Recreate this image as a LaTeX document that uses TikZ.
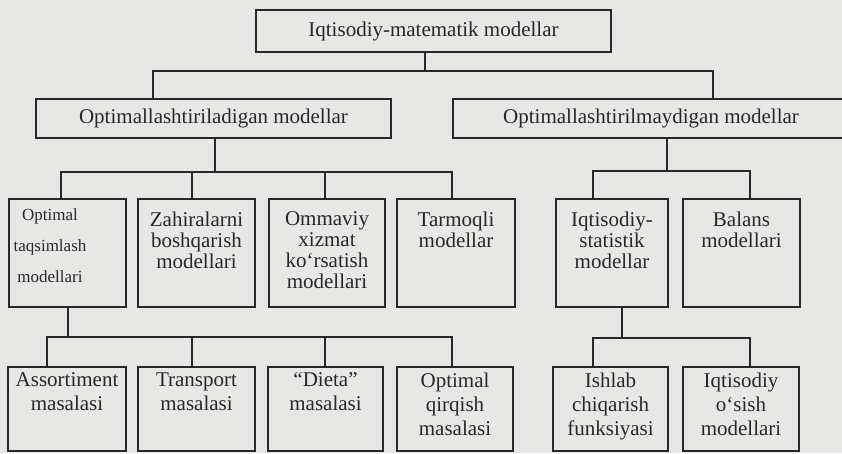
\documentclass[tikz,border=0pt]{standalone}
\usepackage{fontspec}
\setmainfont{Liberation Serif}
\definecolor{bg}{RGB}{231,231,229}
\definecolor{ink}{RGB}{40,40,40}
\begin{document}
\begin{tikzpicture}[x=1pt,y=-1pt,
  box/.style={draw=ink, line width=2pt, inner sep=0pt, outer sep=0pt, text=ink,
    font=\fontsize{21}{21}\selectfont},
  conn/.style={draw=ink, line width=2pt},
  txtA/.style={text=ink, inner sep=0pt, outer sep=0pt, align=center, anchor=north,
    font=\fontsize{21}{21}\selectfont},
  txtB/.style={text=ink, inner sep=0pt, outer sep=0pt, align=center, anchor=north,
    font=\fontsize{21}{24}\selectfont},
  txtS/.style={text=ink, inner sep=0pt, outer sep=0pt, align=center, anchor=north,
    font=\fontsize{17}{31}\selectfont},
  lthree/.style={box, minimum height=108},
  lfour/.style={box, minimum height=84}]
\fill[bg] (0,0) rectangle (842,453);
\useasboundingbox (0,0) rectangle (842,453);
\clip (0,0) rectangle (842,453);

% level 1 and 2
\node[box, minimum width=355, minimum height=42] (T) at (433.5,31) {Iqtisodiy-matematik modellar};
\node[box, minimum width=355, minimum height=39] (A) at (213.5,118.5) {Optimallashtiriladigan modellar};
\node[box, minimum width=396, minimum height=39] (B) at (651,118.5) {Optimallashtirilmaydigan modellar};

% level 3
\node[lthree, minimum width=117] (b1) at (67.5,253) {};
\node[lthree, minimum width=117] (b2) at (196.5,253) {};
\node[lthree, minimum width=116] (b3) at (327,253) {};
\node[lthree, minimum width=118] (b4) at (456,253) {};
\node[lthree, minimum width=112] (b5) at (612,253) {};
\node[lthree, minimum width=117] (b6) at (741.5,253) {};

\node[txtS] (tb1) at ([xshift=-17.5,yshift=-10]b1.north) {Optimal\\taqsimlash\\modellari};
\node[txtA] (tb2) at ([yshift=-13]b2.north) {Zahiralarni\\boshqarish\\modellari};
\node[txtA] (tb3) at ([yshift=-13]b3.north) {Ommaviy\\xizmat\\ko‘rsatish\\modellari};
\node[txtA] (tb4) at ([yshift=-13]b4.north) {Tarmoqli\\modellar};
\node[txtA] (tb5) at ([yshift=-13]b5.north) {Iqtisodiy-\\statistik\\modellar};
\node[txtA] (tb6) at ([yshift=-13]b6.north) {Balans\\modellari};

% level 4
\node[lfour, minimum width=118] (c1) at (67,409) {};
\node[lfour, minimum width=117] (c2) at (196.5,409) {};
\node[lfour, minimum width=115] (c3) at (325.5,409) {};
\node[lfour, minimum width=116] (c4) at (455,409) {};
\node[lfour, minimum width=115] (c5) at (610.5,409) {};
\node[lfour, minimum width=116] (c6) at (741,409) {};

\node[txtB] (tc1) at ([yshift=-6]c1.north) {Assortiment\\masalasi};
\node[txtB] (tc2) at ([yshift=-6]c2.north) {Transport\\masalasi};
\node[txtB] (tc3) at ([yshift=-6]c3.north) {“Dieta”\\masalasi};
\node[txtB] (tc4) at ([yshift=-6]c4.north) {Optimal\\qirqish\\masalasi};
\node[txtB] (tc5) at ([yshift=-6]c5.north) {Ishlab\\chiqarish\\funksiyasi};
\node[txtB] (tc6) at ([yshift=-6]c6.north) {Iqtisodiy\\o‘sish\\modellari};

% junction points
\coordinate (j0) at (425,71);
\coordinate (j1) at (215,172);
\coordinate (j2) at (667,171);
\coordinate (j3) at (68,337);
\coordinate (j4) at (622,338);

% connectors level 1 -> 2
\draw[conn] ([xshift=-8.5]T.south) -- (j0);
\draw[conn] ([xshift=-60.5]A.north) |- (j0) -| ([xshift=62]B.north);

% A -> level 3
\draw[conn] ([xshift=1.5]A.south) -- (j1);
\draw[conn] ([xshift=-6.5]b1.north) |- (j1) -| ([xshift=-4]b4.north);
\draw[conn] ([xshift=-4.5]b2.north) -- ([xshift=-4.5]b2.north |- j1);
\draw[conn] ([xshift=-2]b3.north) -- ([xshift=-2]b3.north |- j1);

% B -> level 3
\draw[conn] ([xshift=16]B.south) -- (j2);
\draw[conn] ([xshift=-19]b5.north) |- (j2) -| ([xshift=8.5]b6.north);

% b1 -> level 4
\draw[conn] ([xshift=0.5]b1.south) -- (j3);
\draw[conn] ([xshift=-20]c1.north) |- (j3) -| ([xshift=-3]c4.north);
\draw[conn] ([xshift=-4.5]c2.north) -- ([xshift=-4.5]c2.north |- j3);
\draw[conn] ([xshift=-0.5]c3.north) -- ([xshift=-0.5]c3.north |- j3);

% b5 -> level 4
\draw[conn] ([xshift=10]b5.south) -- (j4);
\draw[conn] ([xshift=-17.5]c5.north) |- (j4) -| ([xshift=9]c6.north);
\end{tikzpicture}
\end{document}
